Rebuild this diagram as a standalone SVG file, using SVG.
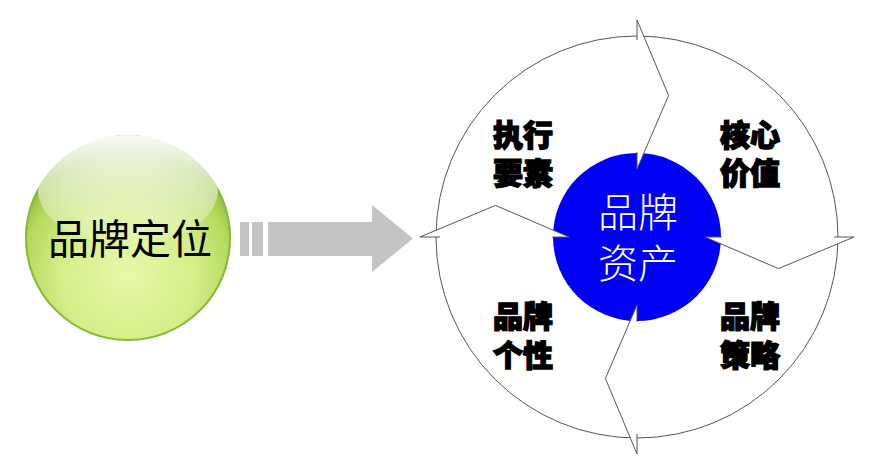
<svg xmlns="http://www.w3.org/2000/svg" width="878" height="471" viewBox="0 0 878 471">
  <defs>
    <radialGradient id="greenBase" cx="128" cy="275" r="125" gradientUnits="userSpaceOnUse">
      <stop offset="0" stop-color="#E8F9A8"/>
      <stop offset="0.55" stop-color="#D4EE88"/>
      <stop offset="0.85" stop-color="#B3D85C"/>
      <stop offset="1" stop-color="#8FBC3C"/>
    </radialGradient>
    <linearGradient id="gloss" x1="0" y1="0" x2="0" y2="1">
      <stop offset="0" stop-color="#FFFFFF" stop-opacity="0.95"/>
      <stop offset="1" stop-color="#FFFFFF" stop-opacity="0.1"/>
    </linearGradient>
    <polygon id="headFill" points="637,20 668.6,95.5 637,169"/>
    <path id="headLine" d="M637,40 L637,20 L668.6,95.5 L637,169 L637,152"/>
  </defs>
  <style>
    .hf { fill: #FFFFFF; stroke: none; }
    .hl { fill: none; stroke: #555555; stroke-width: 1; stroke-linejoin: miter; }
    .lbl { font-family: "Liberation Sans", "Noto Sans CJK SC", sans-serif; font-size: 30px; font-weight: 900; fill: #000000; stroke: #000000; stroke-width: 1.4px; text-anchor: middle; }
    .song { font-family: "Liberation Sans", "Noto Sans CJK SC", sans-serif; text-anchor: middle; }
  </style>
  <rect width="878" height="471" fill="#FFFFFF"/>

  <g id="node-positioning">
    <circle cx="128" cy="238" r="103" fill="url(#greenBase)"/>
    <circle cx="128" cy="238" r="102" fill="none" stroke="#8AB83A" stroke-width="2"/>
    <ellipse cx="128" cy="190" rx="90" ry="55" fill="url(#gloss)"/>
    <text class="song" x="130" y="254" font-size="41" font-weight="400" fill="#000000">品牌定位</text>
  </g>

  <g id="connectors">
    <g id="big-arrow" fill="#C4C4C4">
      <rect x="240" y="222" width="9" height="34"/>
      <rect x="252" y="222" width="11" height="34"/>
      <polygon points="268,222 372,222 372,205 413,238.5 372,272 372,256 268,256"/>
    </g>
  </g>

  <g id="cycle">
    <circle cx="637" cy="237" r="201" fill="#FFFFFF" stroke="#555555" stroke-width="1"/>
    <g id="node-center">
      <circle cx="637" cy="237" r="84" fill="#0000F5"/>
    </g>
    <g id="dividers">
      <use href="#headFill" class="hf"/>
      <use href="#headFill" class="hf" transform="rotate(90 637 237)"/>
      <use href="#headFill" class="hf" transform="rotate(180 637 237)"/>
      <use href="#headFill" class="hf" transform="rotate(270 637 237)"/>
      <use href="#headLine" class="hl"/>
      <use href="#headLine" class="hl" transform="rotate(90 637 237)"/>
      <use href="#headLine" class="hl" transform="rotate(180 637 237)"/>
      <use href="#headLine" class="hl" transform="rotate(270 637 237)"/>
    </g>
    <g id="center-text">
      <text class="song" x="638" y="227" font-size="40" font-weight="300" fill="#FFFFFF">品牌<tspan x="638" dy="51">资产</tspan></text>
    </g>
  </g>

  <g id="node-execution">
    <text class="lbl" x="523" y="146">执行<tspan x="523" dy="38">要素</tspan></text>
  </g>
  <g id="node-core-value">
    <text class="lbl" x="750" y="146">核心<tspan x="750" dy="38">价值</tspan></text>
  </g>
  <g id="node-personality">
    <text class="lbl" x="523" y="327">品牌<tspan x="523" dy="39">个性</tspan></text>
  </g>
  <g id="node-strategy">
    <text class="lbl" x="750" y="327">品牌<tspan x="750" dy="39">策略</tspan></text>
  </g>
</svg>
